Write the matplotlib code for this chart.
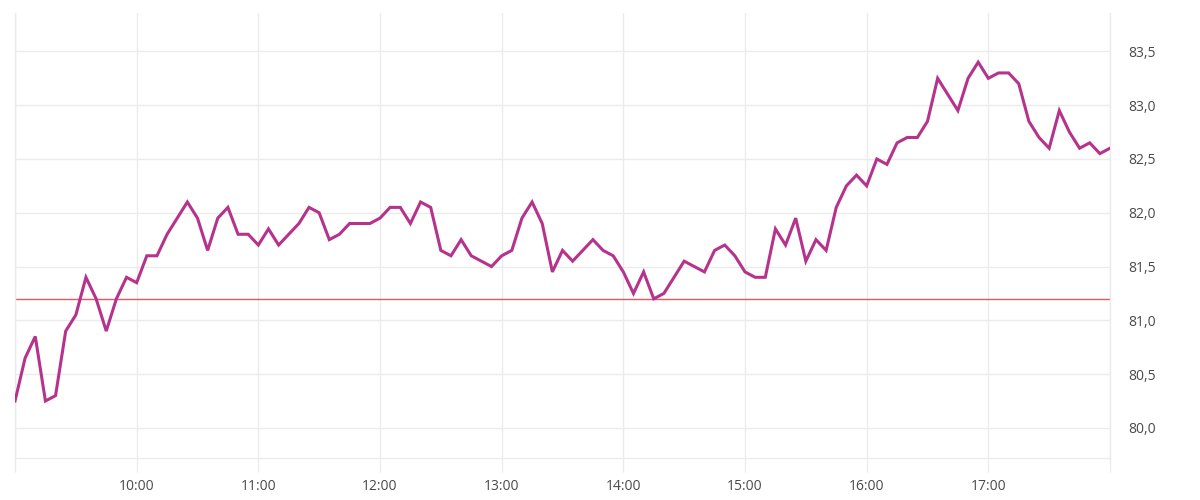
import numpy as np
import matplotlib
matplotlib.use("Agg")
import matplotlib.pyplot as plt

# 5-minute prices from 09:00 to 18:00
prices = [
    80.25, 80.65, 80.85, 80.25, 80.30, 80.90, 81.05, 81.40, 81.20, 80.90,
    81.20, 81.40, 81.35, 81.60, 81.60, 81.80, 81.95, 82.10, 81.95, 81.65,
    81.95, 82.05, 81.80, 81.80, 81.70, 81.85, 81.70, 81.80, 81.90, 82.05,
    82.00, 81.75, 81.80, 81.90, 81.90, 81.90, 81.95, 82.05, 82.05, 81.90,
    82.10, 82.05, 81.65, 81.60, 81.75, 81.60, 81.55, 81.50, 81.60, 81.65,
    81.95, 82.10, 81.90, 81.45, 81.65, 81.55, 81.65, 81.75, 81.65, 81.60,
    81.45, 81.25, 81.45, 81.20, 81.25, 81.40, 81.55, 81.50, 81.45, 81.65,
    81.70, 81.60, 81.45, 81.40, 81.40, 81.85, 81.70, 81.95, 81.55, 81.75,
    81.65, 82.05, 82.25, 82.35, 82.25, 82.50, 82.45, 82.65, 82.70, 82.70,
    82.85, 83.25, 83.10, 82.95, 83.25, 83.40, 83.25, 83.30, 83.30, 83.20,
    82.85, 82.70, 82.60, 82.95, 82.75, 82.60, 82.65, 82.55, 82.60,
]
start_hour = 9
step_min = 5
reference = 81.2
hour_ticks = list(range(9, 19))
hour_labels = ["" if h in (9, 18) else f"{h}:00" for h in hour_ticks]
y_ticks = [80.0, 80.5, 81.0, 81.5, 82.0, 82.5, 83.0, 83.5]
y_labels = [f"{v:.1f}".replace(".", ",") for v in y_ticks]

times = start_hour + np.arange(len(prices)) * step_min / 60.0

plt.rcParams["font.family"] = ["Open Sans", "DejaVu Sans"]

fig = plt.figure(figsize=(12, 5), dpi=100)
ax = fig.add_axes([0.0125, 0.084, 0.9125, 0.8906])

grid_col = "#ebebeb"
ax.set_xlim(9, 18)
ax.set_ylim(79.72, 83.86)

ax.set_yticks(y_ticks)
ax.set_yticklabels(y_labels)
ax.set_xticks(hour_ticks)
ax.set_xticklabels(hour_labels)

ax.grid(True, color=grid_col, linewidth=1)
ax.set_axisbelow(True)

ax.yaxis.tick_right()
ax.tick_params(axis="y", length=0, pad=13, labelsize=10, labelcolor="#4a4a4a")
ax.tick_params(axis="x", length=10, width=1, color=grid_col, pad=5,
               labelsize=10, labelcolor="#4a4a4a")

ax.spines["top"].set_visible(False)
for s in ["left", "right", "bottom"]:
    ax.spines[s].set_color(grid_col)
    ax.spines[s].set_linewidth(1)

ax.axhline(reference, color="#e8555a", linewidth=1, zorder=2)
ax.plot(times, prices, color="#b5338c", linewidth=2.2, zorder=3,
        solid_joinstyle="miter")

fig.savefig("out.png", dpi=100)
